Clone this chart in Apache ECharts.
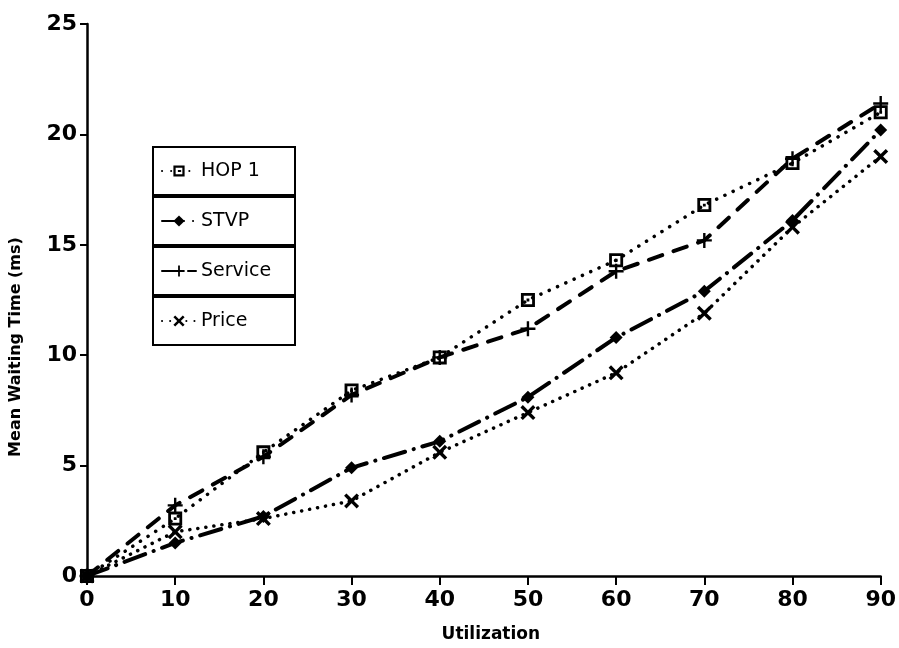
<!DOCTYPE html>
<html>
<head>
<meta charset="utf-8">
<script src="https://cdn.jsdelivr.net/npm/echarts@6/dist/echarts.min.js"></script>
<style>
  html, body { margin: 0; padding: 0; background: #fff; }
  #chart { width: 899px; height: 648px; }
</style>
</head>
<body>
<div id="chart"></div>
<script>
// Utilization (%) on x, mean waiting time (ms) on y
const utilization = [0, 10, 20, 30, 40, 50, 60, 70, 80, 90];
const hop1    = [0, 2.6, 5.6, 8.4, 9.9, 12.5, 14.3, 16.8, 18.7, 21.0];
const stvp    = [0, 1.5, 2.7, 4.9, 6.1, 8.1, 10.8, 12.9, 16.1, 20.2];
const service = [0, 3.2, 5.4, 8.2, 9.9, 11.2, 13.8, 15.2, 18.9, 21.4];
const price   = [0, 2.0, 2.6, 3.4, 5.6, 7.4, 9.2, 11.9, 15.8, 19.0];

const seriesNames = ['HOP 1', 'STVP', 'Service', 'Price'];
const xTicks = { min: 0, max: 90, step: 10 };
const yTicks = { min: 0, max: 25, step: 5 };

// Marker shapes
const squareDot = 'path://M0,0H10V10H0Z M2,2V8H8V2Z M4,4H6V6H4Z';
const plusMark  = 'path://M4.2,0H5.8V4.2H10V5.8H5.8V10H4.2V5.8H0V4.2H4.2Z';
const crossMark = 'path://M0,1.6L1.6,0L5,3.4L8.4,0L10,1.6L6.6,5L10,8.4L8.4,10L5,6.6L1.6,10L0,8.4L3.4,5Z';

const pairs = ys => utilization.map((x, i) => [x, ys[i]]);

const font = '"DejaVu Sans", sans-serif';
const ink = '#000';

const styles = [
  { data: hop1,    symbol: squareDot, size: 14, line: { type: [0.1, 9], width: 3.5, cap: 'round' } },
  { data: stvp,    symbol: 'diamond', size: 13, line: { type: [22, 9, 0.1, 9], width: 4, cap: 'round' } },
  { data: service, symbol: plusMark,  size: 15, line: { type: [14, 12], width: 4, cap: 'round' } },
  { data: price,   symbol: crossMark, size: 15, line: { type: [0.1, 8], width: 3.5, cap: 'round' } }
];

const series = styles.map((s, i) => ({
  name: seriesNames[i],
  type: 'line',
  data: pairs(s.data),
  symbol: s.symbol,
  symbolSize: s.size,
  showAllSymbol: true,
  z: 3 + i,
  lineStyle: Object.assign({ color: ink }, s.line),
  itemStyle: { color: ink, borderWidth: 0 },
  emphasis: { disabled: true },
  animation: false
}));

// One framed box per legend row
const legendTop = 147, legendStep = 50;
const legends = seriesNames.map((name, i) => ({
  data: [name],
  left: 153,
  top: legendTop + i * legendStep,
  orient: 'vertical',
  padding: [14, 8, 14, 8],
  borderColor: ink,
  borderWidth: 2,
  itemWidth: 34,
  itemHeight: 14,
  itemGap: 0,
  selectedMode: false,
  textStyle: { fontFamily: font, fontSize: 19, color: ink, width: 86, lineHeight: 20 }
}));

const chart = echarts.init(document.getElementById('chart'), null, { renderer: 'canvas' });
chart.setOption({
  backgroundColor: '#fff',
  animation: false,
  grid: { left: 86, right: 17, top: 24, bottom: 72, containLabel: false },
  legend: legends,
  xAxis: {
    type: 'value',
    min: xTicks.min, max: xTicks.max, interval: xTicks.step,
    name: 'Utilization',
    nameLocation: 'middle',
    nameGap: 50,
    nameTextStyle: { fontFamily: font, fontSize: 17, fontWeight: 'bold', color: ink, padding: [0, 0, 0, 14] },
    axisLine: { lineStyle: { color: ink, width: 2.5 } },
    axisTick: { length: 9, lineStyle: { color: ink, width: 2 } },
    axisLabel: { fontFamily: font, fontSize: 22, fontWeight: 'bold', color: ink, margin: 13 },
    splitLine: { show: false }
  },
  yAxis: {
    type: 'value',
    min: yTicks.min, max: yTicks.max, interval: yTicks.step,
    name: 'Mean Waiting Time (ms)',
    nameLocation: 'middle',
    nameRotate: 90,
    nameGap: 63,
    nameTextStyle: { fontFamily: font, fontSize: 16, fontWeight: 'bold', color: ink, padding: [0, 94, 0, 0] },
    axisLine: { show: true, lineStyle: { color: ink, width: 2.5 } },
    axisTick: { show: true, length: 7, lineStyle: { color: ink, width: 2 } },
    axisLabel: { fontFamily: font, fontSize: 22, fontWeight: 'bold', color: ink, margin: 10 },
    splitLine: { show: false }
  },
  series: series
});
</script>
</body>
</html>
